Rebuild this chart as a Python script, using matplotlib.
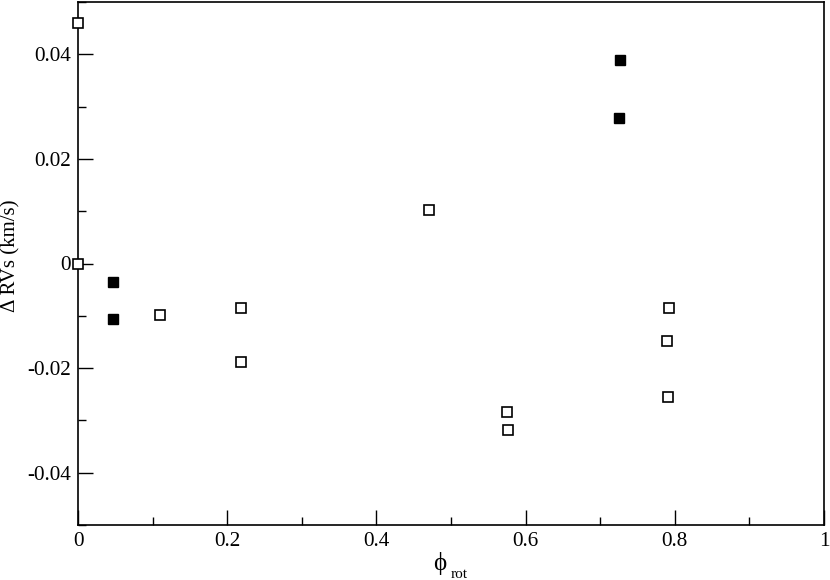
import numpy as np
import matplotlib
matplotlib.use('Agg')
import matplotlib.pyplot as plt
from matplotlib.ticker import MultipleLocator

plt.rcParams['font.family'] = ['Liberation Serif', 'DejaVu Serif']

# open squares
phase_open = [0.0, 0.0, 0.110, 0.2185, 0.2185, 0.4705, 0.575, 0.576, 0.792, 0.790, 0.791]
drv_open = [0.0459, 0.0, -0.0098, -0.0086, -0.0188, 0.0103, -0.0284, -0.0318, -0.0086, -0.0149, -0.0256]

# filled squares
phase_fill = [0.0474, 0.0465, 0.7265, 0.725]
drv_fill = [-0.0036, -0.0106, 0.0389, 0.0278]

W, H = 830, 580
fig = plt.figure(figsize=(W / 100, H / 100), dpi=100)
ax = fig.add_axes([78 / W, 1 - 525 / H, (824 - 78) / W, (525 - 2) / H])

ax.plot(phase_open, drv_open, 's', ms=7.2, mfc='white', mec='black', mew=1.2,
        linestyle='none', clip_on=False, zorder=3)
ax.plot(phase_fill, drv_fill, 's', ms=7.6, mfc='black', mec='black', mew=1.0,
        linestyle='none', clip_on=False, zorder=3)

ax.set_xlim(0, 1)
ax.set_ylim(-0.05, 0.05)
ax.xaxis.set_minor_locator(MultipleLocator(0.1))
ax.yaxis.set_minor_locator(MultipleLocator(0.01))

ax.set_xticks([0, 0.2, 0.4, 0.6, 0.8, 1.0])
ax.set_xticklabels(['0', '0.2', '0.4', '0.6', '0.8', '1'])
ax.set_yticks([-0.04, -0.02, 0, 0.02, 0.04])
ax.set_yticklabels(['-0.04', '-0.02', '0', '0.02', '0.04'])

ax.tick_params(which='major', direction='in', length=11, width=1.0, labelsize=15.2,
               top=False, right=False, pad=5)
ax.tick_params(which='minor', direction='in', length=6, width=1.0, top=False, right=False)
for s in ax.spines.values():
    s.set_linewidth(1.2)

# y label
fig.text(11 / W, 1 - 256 / H, 'Δ RVs (km/s)', rotation=90, fontsize=15,
         ha='center', va='center')

# x label: phi with a lowered subscript
fig.text(440 / W, 1 - 570 / H, 'ϕ', fontsize=18, ha='center', va='baseline')
fig.text(451 / W, 1 - 578 / H, 'rot', fontsize=11, ha='left', va='baseline')

fig.savefig('out.png', dpi=100)
